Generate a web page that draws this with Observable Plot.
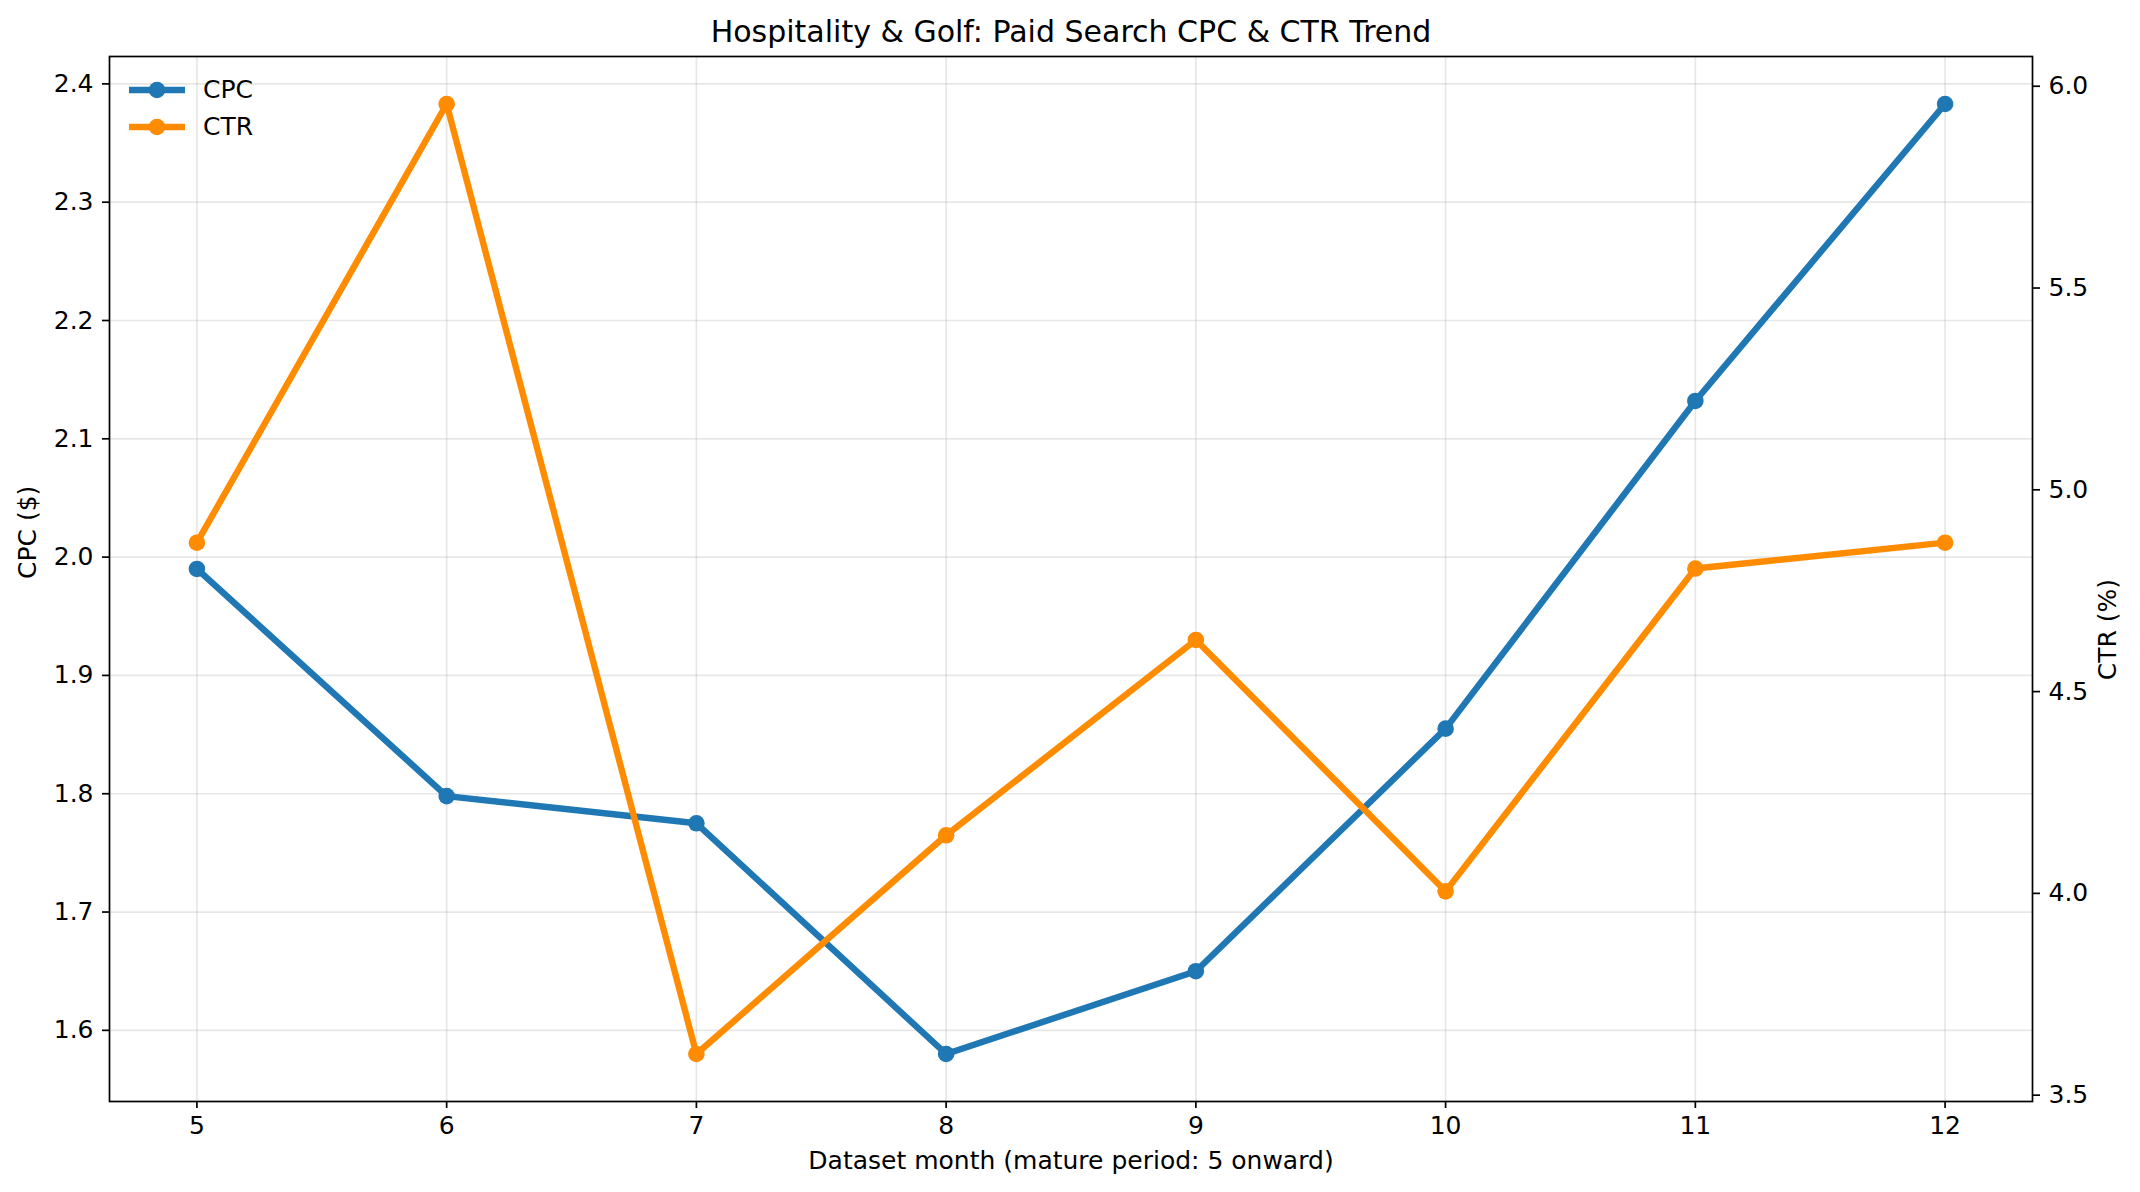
<!DOCTYPE html>
<html>
<head>
<meta charset="utf-8">
<script src="https://cdn.jsdelivr.net/npm/d3@7"></script>
<script src="https://cdn.jsdelivr.net/npm/@observablehq/plot@0.6"></script>
<style>
  html, body { margin: 0; padding: 0; background: #fff; }
  #wrap { position: relative; width: 2140px; height: 1192px; }
  #legend { position: absolute; left: 129px; top: 71px; font-family: "DejaVu Sans", sans-serif; font-size: 25px; color: #000; }
  .item { display: flex; align-items: center; height: 37px; }
  .item svg { margin-right: 18px; }
</style>
</head>
<body>
<div id="wrap"><div id="legend"></div></div>
<script>
const months = [5, 6, 7, 8, 9, 10, 11, 12];
const cpc = [1.99, 1.798, 1.775, 1.58, 1.65, 1.855, 2.132, 2.383];
const ctr = [4.869, 5.956, 3.602, 4.144, 4.628, 4.005, 4.805, 4.869];
const cpcTicks = [1.6, 1.7, 1.8, 1.9, 2.0, 2.1, 2.2, 2.3, 2.4];
const ctrTicks = [3.5, 4.0, 4.5, 5.0, 5.5, 6.0];
const seriesNames = ["CPC", "CTR"];
const colors = ["#1f77b4", "#ff8c00"];
const title = "Hospitality & Golf: Paid Search CPC & CTR Trend";
const xLabel = "Dataset month (mature period: 5 onward)";
const yLabelLeft = "CPC ($)";
const yLabelRight = "CTR (%)";

function padded(vals) {
  const lo = d3.min(vals), hi = d3.max(vals), r = hi - lo;
  return [lo - 0.05 * r, hi + 0.05 * r];
}
const xDom = padded(months);
const cpcDom = padded(cpc);
const ctrDom = padded(ctr);
const toCpc = v => cpcDom[0] + (v - ctrDom[0]) / (ctrDom[1] - ctrDom[0]) * (cpcDom[1] - cpcDom[0]);
const fromCpc = v => ctrDom[0] + (v - cpcDom[0]) / (cpcDom[1] - cpcDom[0]) * (ctrDom[1] - ctrDom[0]);

const rows = months.map((m, i) => ({month: m, cpc: cpc[i], ctr: ctr[i], ctrY: toCpc(ctr[i])}));

const font = "DejaVu Sans, sans-serif";
const fs = 25;
const grid = {stroke: "#b0b0b0", strokeOpacity: 0.3, strokeWidth: 1.7};

const chart = Plot.plot({
  width: 2140,
  height: 1192,
  marginLeft: 109,
  marginRight: 108,
  marginTop: 56,
  marginBottom: 91,
  style: {fontFamily: font, fontSize: fs + "px", background: "#fff", color: "#000"},
  x: {domain: xDom},
  y: {domain: cpcDom},
  marks: [
    Plot.gridX(months, grid),
    Plot.gridY(cpcTicks, grid),
    Plot.line(rows, {x: "month", y: "cpc", stroke: colors[0], strokeWidth: 6.4}),
    Plot.dot(rows, {x: "month", y: "cpc", r: 8.3, fill: colors[0], stroke: null}),
    Plot.line(rows, {x: "month", y: "ctrY", stroke: colors[1], strokeWidth: 6.4}),
    Plot.dot(rows, {x: "month", y: "ctrY", r: 8.3, fill: colors[1], stroke: null}),
    Plot.axisX(months, {tickSize: 7, tickPadding: 8, strokeWidth: 1.7, tickFormat: d => String(d), label: null, fontSize: fs}),
    Plot.axisY(cpcTicks, {anchor: "left", tickSize: 7, tickPadding: 9, strokeWidth: 1.7, tickFormat: d => d.toFixed(1), label: null, fontSize: fs}),
    Plot.axisY(ctrTicks.map(toCpc), {anchor: "right", tickSize: 7, tickPadding: 9, strokeWidth: 1.7, tickFormat: d => fromCpc(d).toFixed(1), label: null, fontSize: fs}),
    Plot.frame({stroke: "#000", strokeWidth: 1.7}),
    Plot.text([title], {frameAnchor: "top", lineAnchor: "middle", dy: -24, fontSize: 30, fill: "#000"}),
    Plot.text([yLabelLeft], {frameAnchor: "left", lineAnchor: "middle", dx: -82, rotate: -90, fontSize: fs, fill: "#000"}),
    Plot.text([yLabelRight], {frameAnchor: "right", lineAnchor: "middle", dx: 75, rotate: -90, fontSize: fs, fill: "#000"}),
    Plot.text([xLabel], {frameAnchor: "bottom", lineAnchor: "middle", dy: 59, fontSize: fs, fill: "#000"})
  ]
});
document.getElementById("wrap").prepend(chart);

const legend = document.getElementById("legend");
seriesNames.forEach((name, i) => {
  const item = document.createElement("div");
  item.className = "item";
  item.innerHTML = `<svg width="56" height="20"><line x1="0" y1="10" x2="56" y2="10" stroke="${colors[i]}" stroke-width="6.4"/><circle cx="28" cy="10" r="8.3" fill="${colors[i]}"/></svg><span>${name}</span>`;
  legend.appendChild(item);
});
</script>
</body>
</html>
